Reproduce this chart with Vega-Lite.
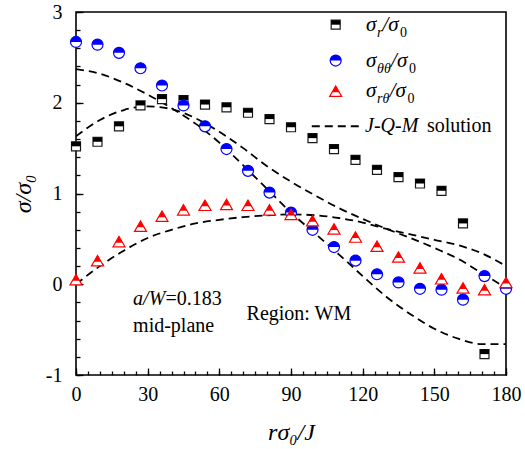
{
  "$schema": "https://vega.github.io/schema/vega-lite/v6.json",
  "width": 430,
  "height": 363,
  "autosize": {"type": "none"},
  "padding": {"left": 76, "top": 12, "right": 19, "bottom": 74},
  "background": "white",
  "config": {
    "font": "Liberation Serif, Times New Roman, serif",
    "view": {"stroke": "black", "strokeWidth": 1.6},
    "axis": {
      "grid": false,
      "domain": false,
      "tickColor": "black",
      "tickWidth": 1.3,
      "labelColor": "black",
      "labelFont": "Liberation Serif, Times New Roman, serif",
      "labelFontSize": 20,
      "labelFlush": false,
      "titleColor": "black",
      "titleFont": "Liberation Serif, Times New Roman, serif",
      "titleFontWeight": "normal"
    },
    "text": {"font": "Liberation Serif, Times New Roman, serif", "fontSize": 20, "color": "black", "baseline": "middle", "align": "left"}
  },
  "resolve": {"axis": {"x": "independent", "y": "independent"}},
  "datasets": {
    "fem": [
      {"comp": "rr", "x": 0, "v": 1.52}, {"comp": "rr", "x": 9, "v": 1.57}, {"comp": "rr", "x": 18, "v": 1.74},
      {"comp": "rr", "x": 27, "v": 1.97}, {"comp": "rr", "x": 36, "v": 2.04}, {"comp": "rr", "x": 45, "v": 2.03},
      {"comp": "rr", "x": 54, "v": 1.98}, {"comp": "rr", "x": 63, "v": 1.95}, {"comp": "rr", "x": 72, "v": 1.89},
      {"comp": "rr", "x": 81, "v": 1.82}, {"comp": "rr", "x": 90, "v": 1.73}, {"comp": "rr", "x": 99, "v": 1.61},
      {"comp": "rr", "x": 108, "v": 1.49}, {"comp": "rr", "x": 117, "v": 1.37}, {"comp": "rr", "x": 126, "v": 1.26},
      {"comp": "rr", "x": 135, "v": 1.18}, {"comp": "rr", "x": 144, "v": 1.11}, {"comp": "rr", "x": 153, "v": 1.03},
      {"comp": "rr", "x": 162, "v": 0.67}, {"comp": "rr", "x": 171, "v": -0.77},
      {"comp": "tt", "x": 0, "v": 2.67}, {"comp": "tt", "x": 9, "v": 2.64}, {"comp": "tt", "x": 18, "v": 2.55},
      {"comp": "tt", "x": 27, "v": 2.38}, {"comp": "tt", "x": 36, "v": 2.19}, {"comp": "tt", "x": 45, "v": 1.97},
      {"comp": "tt", "x": 54, "v": 1.74}, {"comp": "tt", "x": 63, "v": 1.49}, {"comp": "tt", "x": 72, "v": 1.25},
      {"comp": "tt", "x": 81, "v": 1.01}, {"comp": "tt", "x": 90, "v": 0.79}, {"comp": "tt", "x": 99, "v": 0.6},
      {"comp": "tt", "x": 108, "v": 0.41}, {"comp": "tt", "x": 117, "v": 0.26}, {"comp": "tt", "x": 126, "v": 0.11},
      {"comp": "tt", "x": 135, "v": 0.02}, {"comp": "tt", "x": 144, "v": -0.05}, {"comp": "tt", "x": 153, "v": -0.06},
      {"comp": "tt", "x": 162, "v": -0.17}, {"comp": "tt", "x": 171, "v": 0.09}, {"comp": "tt", "x": 180, "v": -0.05},
      {"comp": "rt", "x": 0, "v": 0.05}, {"comp": "rt", "x": 9, "v": 0.26}, {"comp": "rt", "x": 18, "v": 0.47},
      {"comp": "rt", "x": 27, "v": 0.64}, {"comp": "rt", "x": 36, "v": 0.75}, {"comp": "rt", "x": 45, "v": 0.82},
      {"comp": "rt", "x": 54, "v": 0.87}, {"comp": "rt", "x": 63, "v": 0.88}, {"comp": "rt", "x": 72, "v": 0.87},
      {"comp": "rt", "x": 81, "v": 0.82}, {"comp": "rt", "x": 90, "v": 0.77}, {"comp": "rt", "x": 99, "v": 0.7},
      {"comp": "rt", "x": 108, "v": 0.61}, {"comp": "rt", "x": 117, "v": 0.52}, {"comp": "rt", "x": 126, "v": 0.42},
      {"comp": "rt", "x": 135, "v": 0.3}, {"comp": "rt", "x": 144, "v": 0.18}, {"comp": "rt", "x": 153, "v": 0.06},
      {"comp": "rt", "x": 162, "v": -0.04}, {"comp": "rt", "x": 171, "v": -0.06}, {"comp": "rt", "x": 180, "v": 0.02}
    ],
    "jqm": [
      {"curve": "a", "x": 0, "v": 2.37}, {"curve": "a", "x": 10, "v": 2.32}, {"curve": "a", "x": 20, "v": 2.22},
      {"curve": "a", "x": 30, "v": 2.09}, {"curve": "a", "x": 40, "v": 1.94}, {"curve": "a", "x": 50, "v": 1.77},
      {"curve": "a", "x": 60, "v": 1.56}, {"curve": "a", "x": 70, "v": 1.31}, {"curve": "a", "x": 80, "v": 1.05},
      {"curve": "a", "x": 90, "v": 0.79}, {"curve": "a", "x": 100, "v": 0.56}, {"curve": "a", "x": 110, "v": 0.33},
      {"curve": "a", "x": 120, "v": 0.09}, {"curve": "a", "x": 130, "v": -0.14}, {"curve": "a", "x": 140, "v": -0.33},
      {"curve": "a", "x": 150, "v": -0.49}, {"curve": "a", "x": 160, "v": -0.6}, {"curve": "a", "x": 170, "v": -0.66},
      {"curve": "a", "x": 180, "v": -0.66},
      {"curve": "b", "x": 0, "v": 1.63}, {"curve": "b", "x": 10, "v": 1.81}, {"curve": "b", "x": 20, "v": 1.92},
      {"curve": "b", "x": 30, "v": 1.96}, {"curve": "b", "x": 40, "v": 1.93}, {"curve": "b", "x": 50, "v": 1.83},
      {"curve": "b", "x": 60, "v": 1.68}, {"curve": "b", "x": 70, "v": 1.5}, {"curve": "b", "x": 80, "v": 1.3},
      {"curve": "b", "x": 90, "v": 1.13}, {"curve": "b", "x": 100, "v": 0.98}, {"curve": "b", "x": 110, "v": 0.84},
      {"curve": "b", "x": 120, "v": 0.72}, {"curve": "b", "x": 130, "v": 0.61}, {"curve": "b", "x": 140, "v": 0.51},
      {"curve": "b", "x": 150, "v": 0.4}, {"curve": "b", "x": 160, "v": 0.28}, {"curve": "b", "x": 170, "v": 0.12},
      {"curve": "b", "x": 180, "v": -0.04},
      {"curve": "c", "x": 0, "v": 0.0}, {"curve": "c", "x": 10, "v": 0.2}, {"curve": "c", "x": 20, "v": 0.37},
      {"curve": "c", "x": 30, "v": 0.51}, {"curve": "c", "x": 40, "v": 0.6}, {"curve": "c", "x": 50, "v": 0.67},
      {"curve": "c", "x": 60, "v": 0.71}, {"curve": "c", "x": 70, "v": 0.74}, {"curve": "c", "x": 80, "v": 0.76},
      {"curve": "c", "x": 90, "v": 0.77}, {"curve": "c", "x": 100, "v": 0.76}, {"curve": "c", "x": 110, "v": 0.73},
      {"curve": "c", "x": 120, "v": 0.68}, {"curve": "c", "x": 130, "v": 0.61}, {"curve": "c", "x": 140, "v": 0.55},
      {"curve": "c", "x": 150, "v": 0.49}, {"curve": "c", "x": 160, "v": 0.43}, {"curve": "c", "x": 170, "v": 0.34},
      {"curve": "c", "x": 180, "v": 0.2}
    ]
  },
  "layer": [
    {
      "data": {"name": "jqm"},
      "mark": {"type": "line", "interpolate": "monotone", "strokeDash": [8, 5], "strokeWidth": 1.8, "color": "black"},
      "encoding": {
        "x": {
          "field": "x", "type": "quantitative",
          "scale": {"domain": [0, 180], "nice": false, "zero": false},
          "axis": {"orient": "bottom", "labels": false, "title": null, "tickSize": -4,
            "values": [0,5,10,15,20,25,30,35,40,45,50,55,60,65,70,75,80,85,90,95,100,105,110,115,120,125,130,135,140,145,150,155,160,165,170,175,180]}
        },
        "y": {
          "field": "v", "type": "quantitative",
          "scale": {"domain": [-1, 3], "nice": false, "zero": false},
          "axis": {"orient": "left", "labels": false, "title": null, "tickSize": -4,
            "values": [-1,-0.8,-0.6,-0.4,-0.2,0,0.2,0.4,0.6,0.8,1,1.2,1.4,1.6,1.8,2,2.2,2.4,2.6,2.8,3]}
        },
        "detail": {"field": "curve"}
      }
    },
    {
      "data": {"name": "fem"},
      "transform": [{"filter": "datum.comp === 'rr'"}],
      "mark": {"type": "point", "shape": "square", "size": 81, "filled": true, "fill": "white", "stroke": "#1a1a1a", "strokeWidth": 1.2, "opacity": 1},
      "encoding": {
        "x": {
          "field": "x", "type": "quantitative",
          "axis": {"orient": "bottom", "values": [0, 30, 60, 90, 120, 150, 180], "tickSize": -7, "labelPadding": 16,
            "title": "rσ₀/J", "titleFontSize": 24, "titleFontStyle": "italic", "titlePadding": 16}
        },
        "y": {
          "field": "v", "type": "quantitative",
          "axis": {"orient": "left", "values": [-1, 0, 1, 2, 3], "tickSize": -7, "labelPadding": 21,
            "labelExpr": "datum.value < 0 ? '-' + abs(datum.value) : '' + datum.value",
            "title": "σ/σ₀", "titleFontSize": 24, "titleFontStyle": "italic", "titlePadding": 10}
        }
      }
    },
    {
      "data": {"name": "fem"},
      "transform": [{"filter": "datum.comp === 'rr'"}],
      "mark": {"type": "point", "shape": "M -1 -1 L 1 -1 L 1 0 L -1 0 Z", "size": 81, "filled": true, "fill": "black", "strokeWidth": 0, "opacity": 1},
      "encoding": {
        "x": {"field": "x", "type": "quantitative", "axis": null},
        "y": {"field": "v", "type": "quantitative", "axis": null}
      }
    },
    {
      "data": {"name": "fem"},
      "transform": [{"filter": "datum.comp === 'tt'"}],
      "mark": {"type": "point", "shape": "circle", "size": 121, "filled": true, "fill": "white", "stroke": "#0000ff", "strokeWidth": 1.2, "opacity": 1},
      "encoding": {
        "x": {"field": "x", "type": "quantitative", "axis": null},
        "y": {"field": "v", "type": "quantitative", "axis": null}
      }
    },
    {
      "data": {"name": "fem"},
      "transform": [{"filter": "datum.comp === 'tt'"}],
      "mark": {"type": "point", "shape": "M -1 0 A 1 1 0 0 1 1 0 Z", "size": 121, "filled": true, "fill": "#0000ff", "strokeWidth": 0, "opacity": 1},
      "encoding": {
        "x": {"field": "x", "type": "quantitative", "axis": null},
        "y": {"field": "v", "type": "quantitative", "axis": null}
      }
    },
    {
      "data": {"name": "fem"},
      "transform": [{"filter": "datum.comp === 'rt'"}],
      "mark": {"type": "point", "shape": "M 0 -0.866 L -1 0.866 L 1 0.866 Z", "size": 144, "filled": true, "fill": "white", "stroke": "#ff0000", "strokeWidth": 1.2, "opacity": 1},
      "encoding": {
        "x": {"field": "x", "type": "quantitative", "axis": null},
        "y": {"field": "v", "type": "quantitative", "axis": null}
      }
    },
    {
      "data": {"name": "fem"},
      "transform": [{"filter": "datum.comp === 'rt'"}],
      "mark": {"type": "point", "shape": "M 0 -0.866 L -0.6 0.173 L 0.6 0.173 Z", "size": 144, "filled": true, "fill": "#ff0000", "strokeWidth": 0, "opacity": 1},
      "encoding": {
        "x": {"field": "x", "type": "quantitative", "axis": null},
        "y": {"field": "v", "type": "quantitative", "axis": null}
      }
    },
    {
      "data": {"values": [{}]},
      "layer": [
        {"mark": {"type": "point", "shape": "square", "size": 81, "filled": true, "fill": "white", "stroke": "#1a1a1a", "strokeWidth": 1.2, "opacity": 1},
         "encoding": {"x": {"datum": 108.7, "type": "quantitative", "axis": null}, "y": {"datum": 2.86, "type": "quantitative", "axis": null}}},
        {"mark": {"type": "point", "shape": "M -1 -1 L 1 -1 L 1 0 L -1 0 Z", "size": 81, "filled": true, "fill": "black", "strokeWidth": 0, "opacity": 1},
         "encoding": {"x": {"datum": 108.7, "type": "quantitative", "axis": null}, "y": {"datum": 2.86, "type": "quantitative", "axis": null}}},
        {"mark": {"type": "point", "shape": "circle", "size": 121, "filled": true, "fill": "white", "stroke": "#0000ff", "strokeWidth": 1.2, "opacity": 1},
         "encoding": {"x": {"datum": 108.7, "type": "quantitative", "axis": null}, "y": {"datum": 2.465, "type": "quantitative", "axis": null}}},
        {"mark": {"type": "point", "shape": "M -1 0 A 1 1 0 0 1 1 0 Z", "size": 121, "filled": true, "fill": "#0000ff", "strokeWidth": 0, "opacity": 1},
         "encoding": {"x": {"datum": 108.7, "type": "quantitative", "axis": null}, "y": {"datum": 2.465, "type": "quantitative", "axis": null}}},
        {"mark": {"type": "point", "shape": "M 0 -0.866 L -1 0.866 L 1 0.866 Z", "size": 144, "filled": true, "fill": "white", "stroke": "#ff0000", "strokeWidth": 1.2, "opacity": 1},
         "encoding": {"x": {"datum": 108.7, "type": "quantitative", "axis": null}, "y": {"datum": 2.127, "type": "quantitative", "axis": null}}},
        {"mark": {"type": "point", "shape": "M 0 -0.866 L -0.6 0.173 L 0.6 0.173 Z", "size": 144, "filled": true, "fill": "#ff0000", "strokeWidth": 0, "opacity": 1},
         "encoding": {"x": {"datum": 108.7, "type": "quantitative", "axis": null}, "y": {"datum": 2.127, "type": "quantitative", "axis": null}}},
        {"mark": {"type": "rule", "strokeDash": [8, 5], "strokeWidth": 1.8, "color": "black"},
         "encoding": {"x": {"datum": 98.7, "type": "quantitative", "axis": null}, "x2": {"datum": 119.6}, "y": {"datum": 1.741, "type": "quantitative", "axis": null}}},

        {"mark": {"type": "text", "text": "σ", "fontSize": 21, "fontStyle": "italic"},
         "encoding": {"x": {"datum": 121.4, "type": "quantitative", "axis": null}, "y": {"datum": 2.86, "type": "quantitative", "axis": null}}},
        {"mark": {"type": "text", "text": "r", "fontSize": 14, "fontStyle": "italic", "dy": 8},
         "encoding": {"x": {"datum": 126.0, "type": "quantitative", "axis": null}, "y": {"datum": 2.86, "type": "quantitative", "axis": null}}},
        {"mark": {"type": "text", "text": "/σ", "fontSize": 21, "fontStyle": "italic"},
         "encoding": {"x": {"datum": 128.3, "type": "quantitative", "axis": null}, "y": {"datum": 2.86, "type": "quantitative", "axis": null}}},
        {"mark": {"type": "text", "text": "0", "fontSize": 14, "dy": 8},
         "encoding": {"x": {"datum": 135.6, "type": "quantitative", "axis": null}, "y": {"datum": 2.86, "type": "quantitative", "axis": null}}},

        {"mark": {"type": "text", "text": "σ", "fontSize": 21, "fontStyle": "italic"},
         "encoding": {"x": {"datum": 121.4, "type": "quantitative", "axis": null}, "y": {"datum": 2.465, "type": "quantitative", "axis": null}}},
        {"mark": {"type": "text", "text": "θθ", "fontSize": 14, "fontStyle": "italic", "dy": 8},
         "encoding": {"x": {"datum": 126.0, "type": "quantitative", "axis": null}, "y": {"datum": 2.465, "type": "quantitative", "axis": null}}},
        {"mark": {"type": "text", "text": "/σ", "fontSize": 21, "fontStyle": "italic"},
         "encoding": {"x": {"datum": 131.9, "type": "quantitative", "axis": null}, "y": {"datum": 2.465, "type": "quantitative", "axis": null}}},
        {"mark": {"type": "text", "text": "0", "fontSize": 14, "dy": 8},
         "encoding": {"x": {"datum": 139.4, "type": "quantitative", "axis": null}, "y": {"datum": 2.465, "type": "quantitative", "axis": null}}},

        {"mark": {"type": "text", "text": "σ", "fontSize": 21, "fontStyle": "italic"},
         "encoding": {"x": {"datum": 121.4, "type": "quantitative", "axis": null}, "y": {"datum": 2.127, "type": "quantitative", "axis": null}}},
        {"mark": {"type": "text", "text": "rθ", "fontSize": 14, "fontStyle": "italic", "dy": 8},
         "encoding": {"x": {"datum": 126.0, "type": "quantitative", "axis": null}, "y": {"datum": 2.127, "type": "quantitative", "axis": null}}},
        {"mark": {"type": "text", "text": "/σ", "fontSize": 21, "fontStyle": "italic"},
         "encoding": {"x": {"datum": 131.3, "type": "quantitative", "axis": null}, "y": {"datum": 2.127, "type": "quantitative", "axis": null}}},
        {"mark": {"type": "text", "text": "0", "fontSize": 14, "dy": 8},
         "encoding": {"x": {"datum": 138.8, "type": "quantitative", "axis": null}, "y": {"datum": 2.127, "type": "quantitative", "axis": null}}},

        {"mark": {"type": "text", "text": "J-Q-M", "fontSize": 20, "fontStyle": "italic"},
         "encoding": {"x": {"datum": 121.0, "type": "quantitative", "axis": null}, "y": {"datum": 1.741, "type": "quantitative", "axis": null}}},
        {"mark": {"type": "text", "text": "solution", "fontSize": 20},
         "encoding": {"x": {"datum": 146.9, "type": "quantitative", "axis": null}, "y": {"datum": 1.741, "type": "quantitative", "axis": null}}},

        {"mark": {"type": "text", "text": "a/W", "fontSize": 20, "fontStyle": "italic"},
         "encoding": {"x": {"datum": 23.9, "type": "quantitative", "axis": null}, "y": {"datum": -0.166, "type": "quantitative", "axis": null}}},
        {"mark": {"type": "text", "text": "=0.183", "fontSize": 20},
         "encoding": {"x": {"datum": 37.5, "type": "quantitative", "axis": null}, "y": {"datum": -0.166, "type": "quantitative", "axis": null}}},
        {"mark": {"type": "text", "text": "mid-plane", "fontSize": 20},
         "encoding": {"x": {"datum": 23.9, "type": "quantitative", "axis": null}, "y": {"datum": -0.46, "type": "quantitative", "axis": null}}},
        {"mark": {"type": "text", "text": "Region: WM", "fontSize": 20},
         "encoding": {"x": {"datum": 71.4, "type": "quantitative", "axis": null}, "y": {"datum": -0.33, "type": "quantitative", "axis": null}}}
      ]
    }
  ]
}
